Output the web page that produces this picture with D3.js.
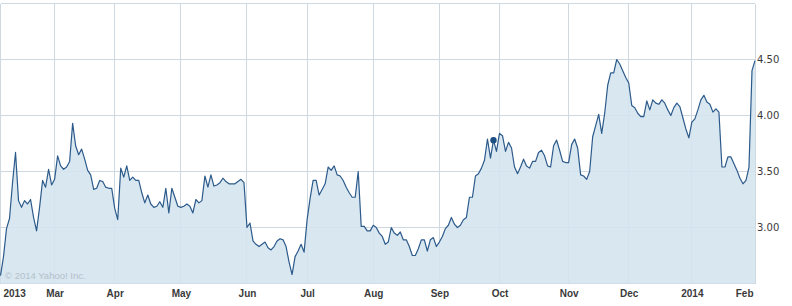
<!DOCTYPE html>
<html>
<head>
<meta charset="utf-8">
<script src="https://cdn.jsdelivr.net/npm/d3@7"></script>
<style>
	body { margin: 0; background: #fff; }
	svg { display: block; }
	.grid line { stroke: #cdd8e0; stroke-width: 1; shape-rendering: crispEdges; }
	.x-axis text { font-family: 'Liberation Sans', Arial, sans-serif; font-size: 10px; font-weight: bold; fill: #3a3a3a; }
	.y-axis text { font-family: 'DejaVu Sans', Verdana, sans-serif; font-size: 10px; fill: #3a3a3a; }
	.domain { display: none; }
</style>
</head>
<body>
<div id="chart"></div>
<script>
// daily closes, one per trading day (Feb 4 2013 .. Feb 3 2014)
const closes = [
	2.57, 2.74, 2.99, 3.08, 3.40, 3.67, 3.24, 3.18, 3.24, 3.21, 3.25, 3.09, 2.97, 3.18, 3.42, 3.36, 3.52, 3.38,
	3.43, 3.64, 3.55, 3.52, 3.54, 3.59, 3.93, 3.73, 3.65, 3.70, 3.61, 3.51, 3.47, 3.34, 3.35, 3.42, 3.41, 3.36,
	3.35, 3.35, 3.17, 3.07, 3.53, 3.45, 3.55, 3.42, 3.45, 3.42, 3.42, 3.31, 3.22, 3.29, 3.21, 3.18, 3.19, 3.23,
	3.18, 3.35, 3.13, 3.35, 3.27, 3.19, 3.18, 3.19, 3.21, 3.19, 3.13, 3.25, 3.22, 3.24, 3.46, 3.36, 3.47, 3.37,
	3.38, 3.40, 3.44, 3.41, 3.39, 3.39, 3.39, 3.41, 3.43, 3.40, 3.00, 3.04, 2.88, 2.85, 2.83, 2.85, 2.87, 2.82,
	2.80, 2.83, 2.88, 2.90, 2.89, 2.83, 2.69, 2.58, 2.74, 2.79, 2.85, 2.78, 3.07, 3.26, 3.42, 3.42, 3.29, 3.34,
	3.39, 3.54, 3.51, 3.55, 3.47, 3.46, 3.42, 3.36, 3.31, 3.27, 3.27, 3.50, 3.01, 3.01, 2.97, 2.97, 3.02, 3.00,
	2.95, 2.92, 2.85, 2.87, 3.00, 2.95, 2.93, 2.96, 2.89, 2.89, 2.83, 2.75, 2.75, 2.81, 2.89, 2.89, 2.79, 2.89,
	2.91, 2.83, 2.87, 2.92, 2.99, 3.02, 3.09, 3.03, 3.00, 3.02, 3.07, 3.09, 3.27, 3.27, 3.46, 3.48, 3.53, 3.60,
	3.79, 3.62, 3.78, 3.68, 3.84, 3.82, 3.68, 3.76, 3.71, 3.54, 3.48, 3.54, 3.61, 3.55, 3.53, 3.59, 3.59, 3.67,
	3.69, 3.64, 3.55, 3.54, 3.73, 3.78, 3.69, 3.59, 3.58, 3.58, 3.74, 3.79, 3.71, 3.47, 3.46, 3.43, 3.50, 3.81,
	3.91, 4.01, 3.84, 4.02, 4.27, 4.38, 4.38, 4.50, 4.46, 4.40, 4.34, 4.29, 4.09, 4.07, 4.02, 3.99, 3.99, 4.13,
	4.05, 4.14, 4.11, 4.10, 4.14, 4.11, 4.05, 4.00, 4.07, 4.11, 4.08, 3.98, 3.88, 3.80, 3.94, 3.97, 4.05, 4.14,
	4.18, 4.12, 4.10, 4.03, 4.06, 4.03, 3.54, 3.54, 3.63, 3.63, 3.57, 3.51, 3.44, 3.39, 3.42, 3.54, 4.40, 4.49
];

// first trading day of each month (index into closes) and its label
const monthIdx = [0, 18, 38, 60, 82, 102, 124, 146, 166, 189, 209, 230, 251];
const monthLabels = ['2013', 'Mar', 'Apr', 'May', 'Jun', 'Jul', 'Aug', 'Sep', 'Oct', 'Nov', 'Dec', '2014', 'Feb'];

const priceTicks = [3.0, 3.5, 4.0, 4.5];
const gridTicks = [2.5, 3.0, 3.5, 4.0, 4.5, 5.0];
const markIdx = 164; // highlighted point

const width = 792;
const height = 306;
const plotLeft = 0.5, plotRight = 755, plotTop = 3.5, plotBottom = 283.5;

const svg = d3.select('#chart').append('svg').attr('width', width).attr('height', height);

const x = d3.scaleLinear().domain([0, closes.length - 1]).range([plotLeft, plotRight]);
const y = d3.scaleLinear().domain([2.5, 5.0]).range([plotBottom, plotTop]);

// grid
const grid = svg.append('g').attr('class', 'grid');
grid
	.selectAll('line.h')
	.data(gridTicks)
	.enter()
	.append('line')
	.attr('class', 'h')
	.attr('x1', plotLeft)
	.attr('x2', plotRight)
	.attr('y1', (d) => y(d))
	.attr('y2', (d) => y(d));
grid
	.selectAll('line.v')
	.data(monthIdx)
	.enter()
	.append('line')
	.attr('class', 'v')
	.attr('x1', (d) => x(d))
	.attr('x2', (d) => x(d))
	.attr('y1', plotTop)
	.attr('y2', plotBottom);

// area + line
const area = d3
	.area()
	.x((d, i) => x(i))
	.y0(plotBottom)
	.y1((d) => y(d));
const line = d3
	.line()
	.x((d, i) => x(i))
	.y((d) => y(d));

svg.append('path').datum(closes).attr('d', area).attr('fill', '#d5e4f0').attr('fill-opacity', 0.9);
svg
	.append('path')
	.datum(closes)
	.attr('d', line)
	.attr('fill', 'none')
	.attr('stroke', '#2c5a8a')
	.attr('stroke-width', 1.2)
	.attr('stroke-linejoin', 'round');

svg
	.append('circle')
	.attr('cx', x(markIdx))
	.attr('cy', y(closes[markIdx]))
	.attr('r', 3.2)
	.attr('fill', '#1d4f82');

// copyright
svg
	.append('text')
	.attr('x', 5)
	.attr('y', 279)
	.text('\u00a9 2014 Yahoo! Inc.')
	.style('font-family', "'Liberation Sans', Arial, sans-serif")
	.style('font-size', '9.5px')
	.style('fill', '#b3c0ca');

// axes
const xAxis = d3
	.axisBottom(x)
	.tickValues(monthIdx)
	.tickSize(0)
	.tickPadding(0)
	.tickFormat((d, i) => monthLabels[i]);
const gx = svg
	.append('g')
	.attr('class', 'x-axis')
	.attr('transform', `translate(0, ${plotBottom})`)
	.call(xAxis);
gx.selectAll('text').attr('dy', null).attr('y', 13.5);
// first and last labels sit inside the edges
gx.selectAll('.tick')
	.filter((d, i) => i === 0)
	.select('text')
	.attr('text-anchor', 'start')
	.attr('x', 2.5);
gx.selectAll('.tick')
	.filter((d, i) => i === monthIdx.length - 1)
	.select('text')
	.attr('text-anchor', 'end')
	.attr('x', -2);

const yAxis = d3.axisRight(y).tickValues(priceTicks).tickSize(0).tickPadding(2).tickFormat(d3.format('.2f'));
svg
	.append('g')
	.attr('class', 'y-axis')
	.attr('transform', `translate(${plotRight}, 0)`)
	.call(yAxis);
</script>
</body>
</html>
